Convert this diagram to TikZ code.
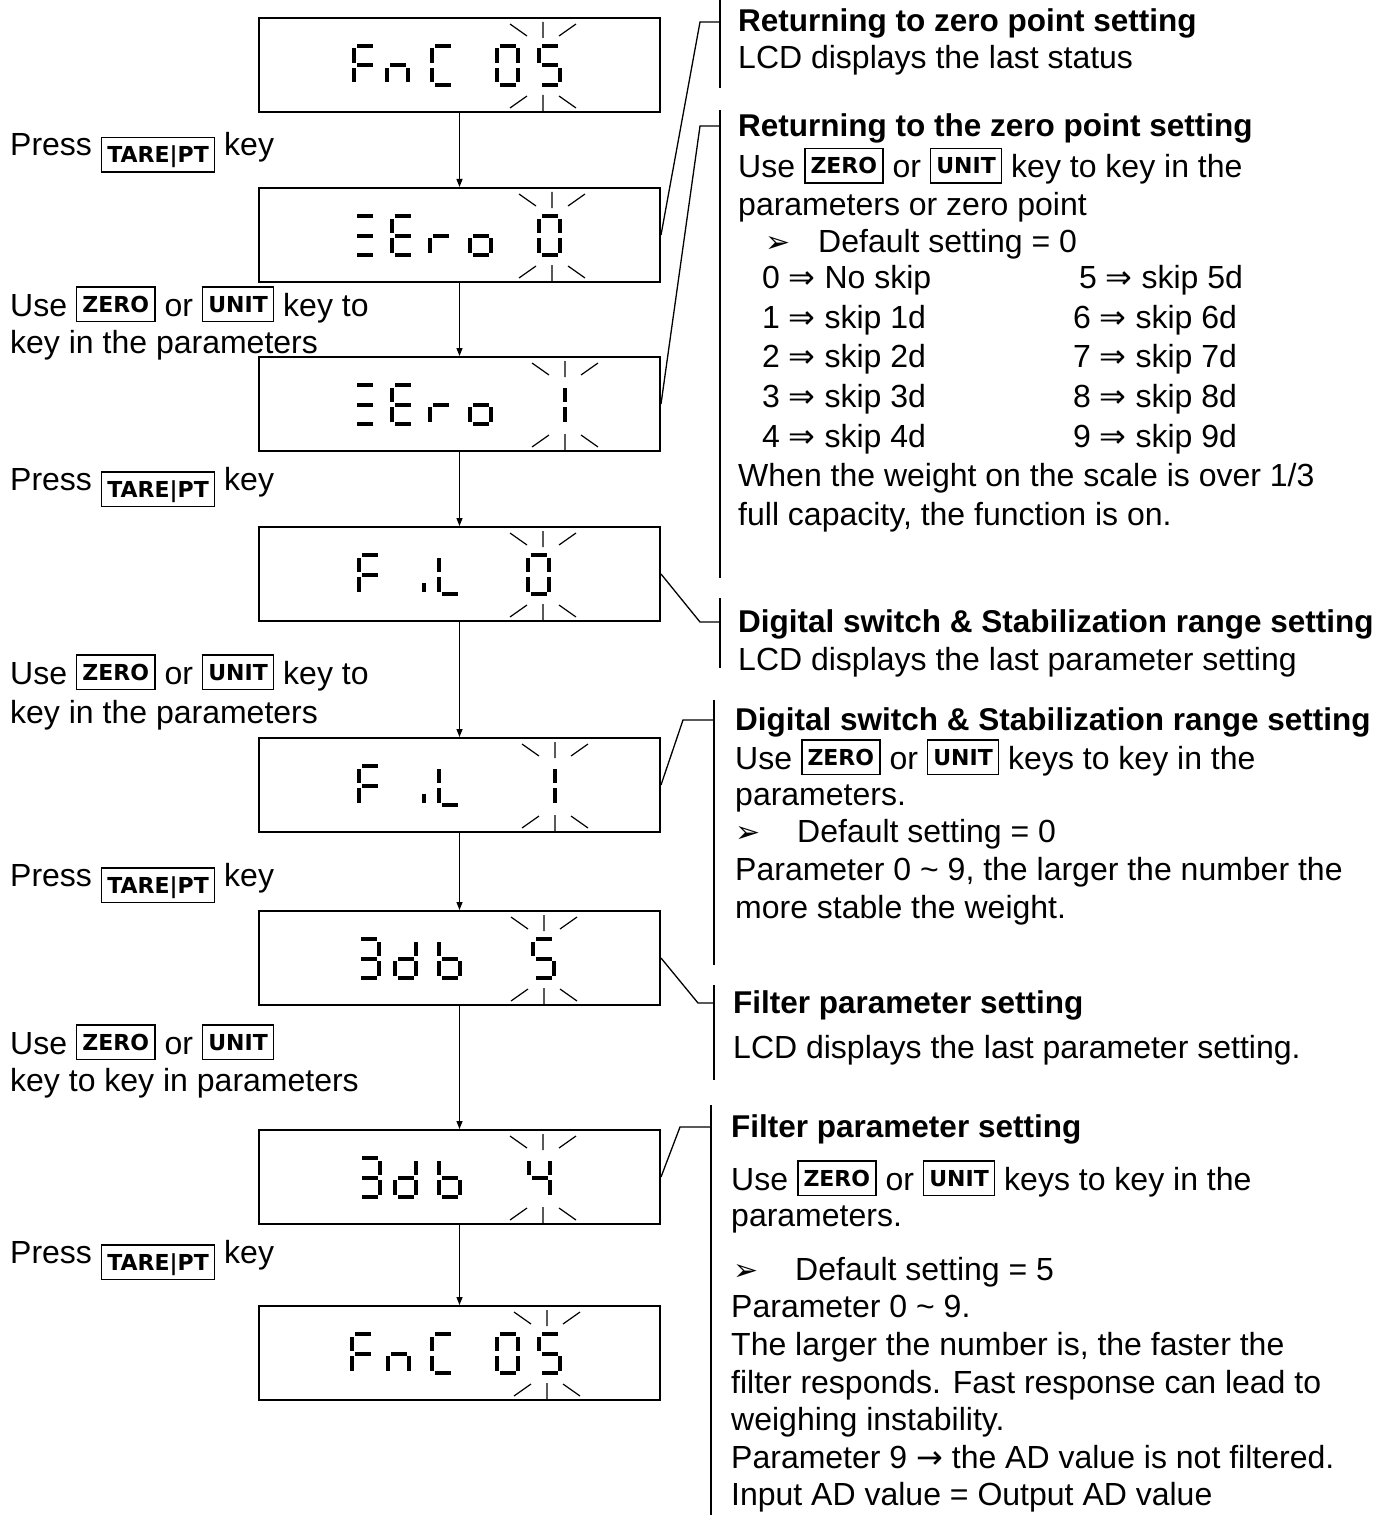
\documentclass[tikz,border=0pt]{standalone}
\usepackage{fontspec}
\setmainfont{Liberation Sans}
\newfontfamily\keyfont{DejaVu Sans}
\newfontfamily\symfont{DejaVu Sans}
\usetikzlibrary{arrows.meta,positioning,calc}

% key caps in the text
\newcommand{\keycap}[2][0pt]{{\setlength{\fboxsep}{0pt}\setlength{\fboxrule}{1.5pt}%
  \fbox{\hspace{5pt}\raisebox{#1}{\rule[-4.5pt]{0pt}{33pt}\raisebox{4pt}{\keyfont\bfseries\fontsize{22}{22}\selectfont #2}}\hspace{5pt}}}}
\newcommand{\bul}{{\symfont\fontsize{30}{30}\selectfont ➢}}
\newcommand{\imp}{{\symfont ⇒}}

% seven segment display
\newcommand{\defseg}[2]{\expandafter\def\csname lcdseg#1\endcsname{#2}}
\defseg{a}{(4.5,0) rectangle (20.5,4)}
\defseg{b}{(21,4.5) rectangle (25,19)}
\defseg{c}{(21,24) rectangle (25,38.5)}
\defseg{d}{(4.5,39) rectangle (20.5,43)}
\defseg{e}{(0,24) rectangle (4,38.5)}
\defseg{f}{(0,4.5) rectangle (4,19)}
\defseg{g}{(4.5,19.5) rectangle (20.5,23.5)}
\defseg{i}{(0,30) rectangle (4,38.5)}
\newcommand{\defchar}[2]{\expandafter\def\csname lcdch#1\endcsname{#2}}
\defchar{F}{a,f,e,g}
\defchar{n}{e,g,c}
\defchar{C}{a,f,e,d}
\defchar{0}{a,b,c,d,e,f}
\defchar{5}{a,f,g,c,d}
\defchar{Z}{a,g,d}
\defchar{E}{a,f,e,g,d}
\defchar{r}{e,g}
\defchar{o}{e,g,c,d}
\defchar{1}{b,c}
\defchar{i}{i}
\defchar{L}{f,e,d}
\defchar{3}{a,b,g,c,d}
\defchar{d}{b,c,g,e,d}
\defchar{b}{f,e,g,c,d}
\defchar{4}{f,g,b,c}
\newcommand{\lcdchar}[3]{%
  \expandafter\let\expandafter\lcdsegs\csname lcdch#3\endcsname
  \foreach \s in \lcdsegs {%
    \expandafter\let\expandafter\lcdpath\csname lcdseg\s\endcsname
    \fill[shift={(#1,#2)}] \lcdpath;}}
\newcommand{\blink}[2]{%
  \draw[marks] (#1-33,#2+7) -- (#1-16,#2+19) (#1,#2+5) -- (#1,#2+21) (#1+16,#2+19) -- (#1+33,#2+7)
    (#1-33,#2+91) -- (#1-16,#2+79) (#1,#2+78) -- (#1,#2+94) (#1+16,#2+79) -- (#1+33,#2+91);}
\newcommand{\lcd}[4]{%
  \node[lcdbox] (#1) at (258,#2) {};
  \foreach \cx/\ch in {#3} {\lcdchar{\cx}{#2+27}{\ch}}
  \blink{#4}{#2}}

\begin{document}
\begin{tikzpicture}[x=1pt,y=-1pt,
    lcdbox/.style={draw, line width=2pt, minimum width=401pt, minimum height=94pt, inner sep=0pt, anchor=north west},
    flow/.style={line width=1.3pt, -{Triangle[length=8pt,width=6pt]}},
    lead/.style={line width=1.3pt},
    marks/.style={line width=1.2pt},
    txt/.style={anchor=base west, inner sep=0pt, font=\fontsize{32}{39}\selectfont},
    head/.style={txt, font=\fontsize{31.5}{39}\selectfont\bfseries}
  ]
  \useasboundingbox (0,0) rectangle (1380,1517);

  % displays
  \lcd{d1}{17}{352/F,385/n,430/C,495/0,537/5}{543}
  \lcd{d2}{187}{352/Z,390/E,428/r,468/o,537/0}{552}
  \lcd{d3}{356}{352/Z,390/E,428/r,468/o,542/1}{565}
  \lcd{d4}{526}{357/F,422/i,437/L,526/0}{543}
  \lcd{d5}{737}{357/F,422/i,437/L,532/1}{555}
  \lcd{d6}{910}{356/3,393/d,437/b,531/5}{544}
  \lcd{d7}{1129}{357/3,393/d,437/b,527/4}{543}
  \lcd{d8}{1305}{350/F,386/n,430/C,495/0,537/5}{547}

  \draw[flow] (d1) -- (d2);
  \draw[flow] (d2) -- (d3);
  \draw[flow] (d3) -- (d4);
  \draw[flow] (d4) -- (d5);
  \draw[flow] (d5) -- (d6);
  \draw[flow] (d6) -- (d7);
  \draw[flow] (d7) -- (d8);

  % left side
  \node[txt] (p1) at (10,156) {Press \keycap[-11pt]{TARE|PT} key};
  \node[txt] (u1) at (10,316) {Use \keycap{ZERO} or \keycap{UNIT} key to};
  \node[txt] (u1b) at (10,353) {key in the parameters};
  \node[txt] (p2) at (10,490) {Press \keycap[-11pt]{TARE|PT} key};
  \node[txt] (u2) at (10,684) {Use \keycap{ZERO} or \keycap{UNIT} key to};
  \node[txt] (u2b) at (10,723) {key in the parameters};
  \node[txt] (p3) at (10,886) {Press \keycap[-11pt]{TARE|PT} key};
  \node[txt] (u3) at (10,1054) {Use \keycap{ZERO} or \keycap{UNIT}};
  \node[txt] (u3b) at (10,1091) {key to key in parameters};
  \node[txt] (p4) at (10,1263) {Press \keycap[-11pt]{TARE|PT} key};

  % brackets
  \coordinate (v1a) at (720,0);    \coordinate (v1b) at (720,88);
  \coordinate (v2a) at (720,110);  \coordinate (v2b) at (720,578);
  \coordinate (v3a) at (720,598);  \coordinate (v3b) at (720,668);
  \coordinate (v4a) at (714,700);  \coordinate (v4b) at (714,965);
  \coordinate (v5a) at (714,985);  \coordinate (v5b) at (714,1080);
  \coordinate (v6a) at (711,1105); \coordinate (v6b) at (711,1515);
  \coordinate (k1) at (700,22);
  \coordinate (k2) at (700,126);
  \coordinate (k3) at (700,622);
  \coordinate (k4) at (683,720);
  \coordinate (k5) at (698,1003);
  \coordinate (k6) at (680,1127);
  \foreach \v in {1,...,6} \draw[lead] (v\v a) -- (v\v b);
  \draw[lead] (d2.east) -- (k1) -- (k1 -| v1a);
  \draw[lead] (d3.east) -- (k2) -- (k2 -| v2a);
  \draw[lead] (d4.east) -- (k3) -- (k3 -| v3a);
  \draw[lead] (d5.east) -- (k4) -- (k4 -| v4a);
  \draw[lead] (d6.east) -- (k5) -- (k5 -| v5a);
  \draw[lead] (d7.east) -- (k6) -- (k6 -| v6a);

  % notes
  \node[head] (h1) at (738,32) {Returning to zero point setting};
  \node[txt] (h1a) at (738,69) {LCD displays the last status};

  \node[head] (h2) at (738,137) {Returning to the zero point setting};
  \node[txt] (h2a) at (738,178) {Use \keycap{ZERO} or \keycap{UNIT} key to key in the};
  \node[txt] (h2b) at (738,215) {parameters or zero point};
  \node[txt] (h2c) at (765,252) {\makebox[53pt][l]{\bul}Default setting = 0};
  \foreach \l/\r/\rx/\ty [count=\i] in {
      {0 \imp{} No skip}/{5 \imp{} skip 5d}/1079/288,
      {1 \imp{} skip 1d}/{6 \imp{} skip 6d}/1073/328,
      {2 \imp{} skip 2d}/{7 \imp{} skip 7d}/1073/367,
      {3 \imp{} skip 3d}/{8 \imp{} skip 8d}/1073/407,
      {4 \imp{} skip 4d}/{9 \imp{} skip 9d}/1073/447} {
    \node[txt] (sl\i) at (762,\ty) {\l};
    \node[txt] (sr\i) at (\rx,\ty) {\r};
  }
  \node[txt] (h2d) at (738,486) {When the weight on the scale is over 1/3};
  \node[txt] (h2e) at (738,525) {full capacity, the function is on.};

  \node[head] (h3) at (738,632) {Digital switch \& Stabilization range setting};
  \node[txt] (h3a) at (738,670) {LCD displays the last parameter setting};

  \node[head] (h4) at (735,730) {Digital switch \& Stabilization range setting};
  \node[txt] (h4a) at (735,769) {Use \keycap{ZERO} or \keycap{UNIT} keys to key in the};
  \node[txt] (h4b) at (735,805) {parameters.};
  \node[txt] (h4c) at (735,842) {\makebox[62pt][l]{\bul}Default setting = 0};
  \node[txt] (h4d) at (735,880) {Parameter 0 \textasciitilde{} 9, the larger the number the};
  \node[txt] (h4e) at (735,918) {more stable the weight.};

  \node[head] (h5) at (733,1013) {Filter parameter setting};
  \node[txt] (h5a) at (733,1058) {LCD displays the last parameter setting.};

  \node[head] (h6) at (731,1137) {Filter parameter setting};
  \node[txt] (h6a) at (731,1190) {Use \keycap{ZERO} or \keycap{UNIT} keys to key in the};
  \node[txt] (h6b) at (731,1226) {parameters.};
  \node[txt] (h6c) at (733,1280) {\makebox[62pt][l]{\bul}Default setting = 5};
  \node[txt] (h6d) at (731,1317) {Parameter 0 \textasciitilde{} 9.};
  \node[txt] (h6e) at (731,1355) {The larger the number is, the faster the};
  \node[txt] (h6f) at (731,1393) {filter responds. Fast response can lead to};
  \node[txt] (h6g) at (731,1430) {weighing instability.};
  \node[txt] (h6h) at (731,1468) {Parameter 9 {\symfont →} the AD value is not filtered.};
  \node[txt] (h6i) at (731,1505) {Input AD value = Output AD value};
\end{tikzpicture}
\end{document}
